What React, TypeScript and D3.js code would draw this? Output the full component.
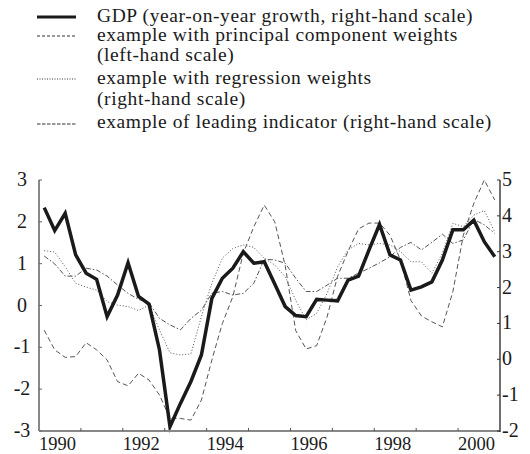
import React from "react";
import * as d3 from "d3";

// Quarterly observations, 1990Q1 .. 2000Q4
const startYear = 1990;
const gdp = [4.23, 3.59, 4.07, 2.91, 2.40, 2.23, 1.19, 1.79, 2.69, 1.75, 1.54, 0.26, -1.88, -1.23, -0.62, 0.12, 1.70, 2.26, 2.54, 3.00, 2.68, 2.72, 2.10, 1.47, 1.22, 1.19, 1.67, 1.65, 1.63, 2.21, 2.32, 3.05, 3.76, 2.91, 2.77, 1.93, 2.02, 2.16, 2.77, 3.61, 3.61, 3.88, 3.28, 2.86];
const principal = [-0.59, -1.06, -1.24, -1.22, -0.89, -1.06, -1.30, -1.82, -1.92, -1.62, -1.78, -2.14, -2.70, -2.70, -2.74, -2.26, -1.30, -0.43, 0.21, 1.25, 1.88, 2.40, 2.00, 0.95, -0.60, -1.04, -0.96, -0.27, 0.70, 1.30, 1.83, 1.97, 1.97, 1.68, 1.09, 0.12, -0.25, -0.39, -0.51, 0.33, 1.68, 2.44, 3.0, 2.52];
const regression = [3.03, 2.99, 2.58, 2.12, 2.01, 1.93, 1.61, 1.51, 1.47, 1.36, 1.51, 0.82, 0.18, 0.12, 0.15, 1.19, 2.12, 2.82, 3.09, 3.19, 3.12, 2.82, 2.63, 2.30, 1.65, 1.10, 1.28, 1.84, 2.58, 3.05, 3.23, 3.19, 3.23, 3.19, 3.00, 2.72, 2.72, 2.40, 2.96, 3.79, 3.70, 4.02, 4.15, 3.55];
const leading = [2.88, 2.66, 2.32, 2.32, 2.54, 2.49, 2.32, 2.07, 1.84, 1.67, 1.58, 1.14, 0.96, 0.82, 1.14, 1.37, 1.84, 1.89, 1.79, 1.84, 2.12, 2.79, 2.77, 2.68, 2.26, 1.89, 1.89, 2.07, 2.26, 2.26, 2.40, 2.54, 2.69, 2.86, 3.12, 3.26, 3.05, 3.26, 3.49, 3.23, 3.33, 3.90, 3.75, 3.51];

const yearTicks = [1990, 1991, 1992, 1993, 1994, 1995, 1996, 1997, 1998, 1999, 2000, 2001];
const yearLabels = [1990, 1992, 1994, 1996, 1998, 2000];
const leftTicks = [3, 2, 1, 0, -1, -2, -3];
const rightTicks = [5, 4, 3, 2, 1, 0, -1, -2];

const legendItems = [
  { lines: ["GDP (year-on-year growth, right-hand scale)"], key: "gdp" },
  { lines: ["example with principal component weights", "(left-hand scale)"], key: "principal" },
  { lines: ["example with regression weights", "(right-hand scale)"], key: "regression" },
  { lines: ["example of leading indicator (right-hand scale)"], key: "leading" },
];

const W = 530, H = 454;
const L = 39, R = 500, T = 180, B = 431;
const serif = "Liberation Serif, DejaVu Serif, serif";
const thin = "#555";

export default function App() {
  const x = d3.scaleLinear().domain([1990, 2001]).range([L, R]);
  const yL = d3.scaleLinear().domain([-3, 3]).range([B, T]);
  const yR = d3.scaleLinear().domain([-2, 5]).range([B, T]);
  const t = (i: number) => startYear + (i + 0.5) / 4;

  const lineR = d3.line<number>().x((_, i) => x(t(i))).y((d) => yR(d));
  const lineL = d3.line<number>().x((_, i) => x(t(i))).y((d) => yL(d));

  const styles: Record<string, any> = {
    gdp: { dash: undefined, legendDash: undefined },
    principal: { dash: "5,3", legendDash: "3,2" },
    regression: { dash: "1,2", legendDash: "1,1.5" },
    leading: { dash: "5,2,1.5,2", legendDash: "3.5,1.5" },
  };

  const legendBaselines = [[22], [41, 61], [84, 105], [128]];
  const legendSampleY = [17, 36, 79, 124];

  return (
    <svg width={W} height={H} style={{ position: "absolute", left: 0, top: 0, background: "#fff" }}>
      <rect x={0} y={0} width={W} height={H} fill="#fff" />
      {legendItems.map((item, k) => {
        const s = styles[item.key];
        return (
          <g key={item.key}>
            <line x1={37} x2={76} y1={legendSampleY[k]} y2={legendSampleY[k]} stroke={k === 0 ? "#1a1a1a" : "#333"}
              strokeWidth={k === 0 ? 3 : 1} strokeDasharray={s.legendDash} />
            {item.lines.map((ln, j) => (
              <text key={j} x={97} y={legendBaselines[k][j]} style={{ fontFamily: serif, fontSize: "19.5px", letterSpacing: "0.6px" }} fill="#1a1a1a">{ln}</text>
            ))}
          </g>
        );
      })}

      <path d={lineL(principal) || ""} fill="none" stroke={thin} strokeWidth={1} strokeDasharray={styles.principal.dash} />
      <path d={lineR(regression) || ""} fill="none" stroke={thin} strokeWidth={1} strokeDasharray={styles.regression.dash} />
      <path d={lineR(leading) || ""} fill="none" stroke={thin} strokeWidth={1} strokeDasharray={styles.leading.dash} />
      <path d={lineR(gdp) || ""} fill="none" stroke="#1a1a1a" strokeWidth={3.5} strokeLinejoin="miter" />

      <line x1={L} x2={L} y1={T} y2={B} stroke="#888" strokeWidth={2} />
      <line x1={L} x2={R} y1={B} y2={B} stroke="#888" strokeWidth={2} />
      <line x1={R} x2={R} y1={T} y2={B + 1} stroke="#222" strokeWidth={1.3} />
      {leftTicks.map((v) => (
        <g key={"l" + v}>
          <line x1={L} x2={L + 3} y1={yL(v)} y2={yL(v)} stroke="#666" strokeWidth={1} />
          <text x={22} y={yL(v)} dy="0.3em" textAnchor="middle" style={{ fontFamily: serif, fontSize: "20px" }} fill="#1a1a1a">{v < 0 ? "-" + Math.abs(v) : v}</text>
        </g>
      ))}
      {rightTicks.map((v) => (
        <g key={"r" + v}>
          <line x1={R - 3} x2={R} y1={yR(v)} y2={yR(v)} stroke="#333" strokeWidth={1} />
          <text x={502} y={yR(v)} dy="0.3em" textAnchor="start" style={{ fontFamily: serif, fontSize: "20px" }} fill="#1a1a1a">{v < 0 ? "-" + Math.abs(v) : v}</text>
        </g>
      ))}
      {yearTicks.slice(1, -1).map((yv) => (
        <line key={"xt" + yv} x1={x(yv)} x2={x(yv)} y1={B} y2={B - 3} stroke="#555" strokeWidth={1} />
      ))}
      {yearLabels.map((yv) => (
        <text key={"xl" + yv} x={x(yv)} y={450} textAnchor="start" style={{ fontFamily: serif, fontSize: "18.5px" }} fill="#1a1a1a">{yv}</text>
      ))}
    </svg>
  );
}
